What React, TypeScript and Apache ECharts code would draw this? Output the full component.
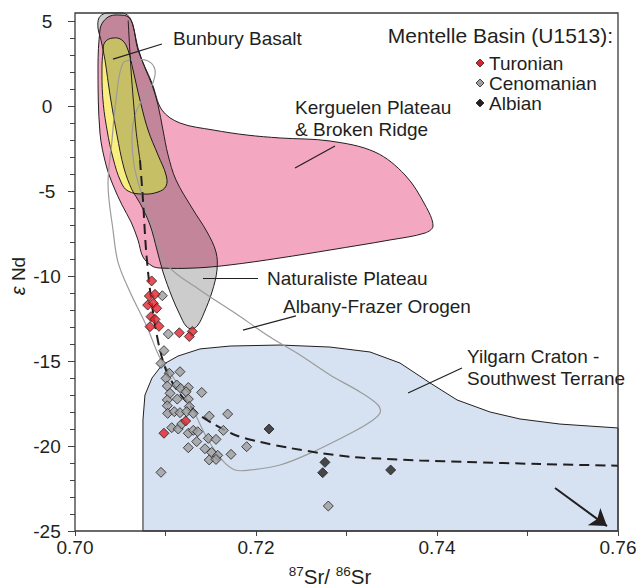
import React, { useEffect, useRef } from 'react';
import * as echarts from 'echarts';

const FONT = '"Liberation Sans", Arial, Helvetica, sans-serif';
const INK = '#231f20';

// axis
const xMin = 0.70, xMax = 0.76, xStep = 0.02;
const yMin = -25, yMax = 5, yStep = 5;

// samples (87Sr/86Sr, eps Nd)
const turonian: [number, number][] = [
  [0.70847, -10.29], [0.70821, -11.18], [0.70884, -11.08], [0.70803, -11.71], [0.70865, -11.61],
  [0.70903, -11.90], [0.70840, -12.39], [0.70884, -12.55], [0.70829, -12.98], [0.70928, -12.96],
  [0.71153, -13.34], [0.71296, -13.26], [0.71263, -13.56], [0.71223, -18.53], [0.70983, -19.25],
];
const cenomanian: [number, number][] = [
  [0.70965, -11.16], [0.71031, -13.41], [0.70983, -14.39], [0.70950, -15.14], [0.71042, -15.72],
  [0.71160, -15.63], [0.71006, -16.02], [0.71020, -16.47], [0.71124, -16.41], [0.71168, -16.61],
  [0.71252, -16.56], [0.71050, -16.90], [0.71227, -16.81], [0.71400, -16.85], [0.71020, -17.29],
  [0.71130, -17.24], [0.71252, -17.24], [0.71020, -17.63], [0.71263, -17.68], [0.71024, -18.08],
  [0.71097, -17.98], [0.71160, -18.04], [0.71234, -17.98], [0.71307, -18.08], [0.71484, -18.24],
  [0.71687, -18.12], [0.71069, -18.92], [0.71141, -19.0], [0.71179, -18.71], [0.71252, -19.25],
  [0.71307, -19.08], [0.71356, -19.16], [0.71473, -19.55], [0.71558, -19.61], [0.71639, -19.08],
  [0.71345, -19.74], [0.71252, -20.10], [0.71436, -20.16], [0.71510, -20.38], [0.71577, -20.55],
  [0.71483, -20.82], [0.71558, -20.79], [0.71724, -20.49], [0.70950, -21.55], [0.71897, -20.04],
  [0.72799, -23.53],
];
const albian: [number, number][] = [
  [0.72144, -19.0], [0.72762, -20.96], [0.72737, -21.57], [0.73488, -21.41],
];

// mixing curve
const mixingCurve: [number, number][] = [
  [0.70718, -3.18], [0.70751, -5.53], [0.70785, -8.47], [0.70829, -10.82], [0.70884, -12.88],
  [0.70939, -14.35], [0.71006, -15.53], [0.71105, -16.53], [0.71215, -17.29], [0.71348, -18.06],
  [0.71514, -18.65], [0.71768, -19.35], [0.72044, -19.76], [0.72376, -20.12], [0.72707, -20.41],
  [0.73072, -20.65], [0.73370, -20.74], [0.73812, -20.85], [0.74331, -20.94], [0.75138, -21.06],
  [0.76, -21.16],
];
const mixingUpper: [number, number][] = [
  [0.70586, 5.18], [0.70619, 2.12], [0.70674, -1.41], [0.70718, -3.18],
];
const trendArrow: [number, number][] = [[0.75304, -22.47], [0.75878, -24.71]];

// fields
const kerguelenField: [number, number][] = [
  [0.70309, 4.94], [0.70387, 5.29], [0.70497, 5.35], [0.70586, 5.24], [0.70641, 4.76],
  [0.70696, 3.29], [0.70851, 1.35], [0.70961, -0.24], [0.71160, -1.0], [0.71525, -1.41],
  [0.71901, -1.71], [0.72265, -1.88], [0.72818, -2.06], [0.73315, -2.71], [0.73647, -4.06],
  [0.73868, -5.82], [0.73956, -7.06], [0.73868, -7.47], [0.73481, -7.88], [0.72818, -8.47],
  [0.72265, -8.94], [0.71713, -9.35], [0.71326, -9.53], [0.70939, -9.53], [0.70851, -9.41],
  [0.70751, -8.88], [0.70696, -7.88], [0.70619, -6.82], [0.70519, -5.82], [0.70420, -4.65],
  [0.70343, -3.47], [0.70276, -1.59], [0.70254, 2.29], [0.70276, 4.47],
];
const naturalisteField: [number, number][] = [
  [0.70254, 4.59], [0.70265, 5.18], [0.70331, 5.45], [0.70442, 5.47], [0.70541, 5.45],
  [0.70608, 5.18], [0.70652, 4.47], [0.70696, 3.41], [0.70773, 2.24], [0.70851, 1.24],
  [0.70917, 0.06], [0.70972, -1.41], [0.71028, -2.88], [0.71116, -4.35], [0.71293, -6.0],
  [0.71459, -7.41], [0.71558, -8.59], [0.71569, -9.65], [0.71514, -10.94], [0.71425, -12.18],
  [0.71359, -12.88], [0.71293, -13.12], [0.71227, -12.94], [0.71160, -12.29], [0.71072, -11.24],
  [0.70972, -9.76], [0.70906, -8.47], [0.70829, -7.0], [0.70718, -5.71], [0.70630, -4.94],
  [0.70541, -3.65], [0.70464, -1.71], [0.70387, 0.65], [0.70331, 2.71], [0.70287, 3.88],
];
const bunburyField: [number, number][] = [
  [0.70331, 3.76], [0.70420, 4.0], [0.70519, 3.88], [0.70586, 3.29], [0.70641, 2.12],
  [0.70718, 0.35], [0.70807, -1.41], [0.70917, -2.88], [0.71006, -4.06], [0.71006, -4.71],
  [0.70917, -5.06], [0.70751, -5.18], [0.70586, -5.0], [0.70508, -4.47], [0.70420, -3.06],
  [0.70354, -1.41], [0.70309, 0.35], [0.70298, 2.12], [0.70309, 3.18],
];
const albanyFrazerField: [number, number][] = [
  [0.70530, 2.53], [0.70663, 2.71], [0.70807, 2.65], [0.70884, 2.12], [0.70851, 1.24],
  [0.70740, 0.35], [0.70663, -0.53], [0.70630, -1.71], [0.70652, -3.47], [0.70740, -5.24],
  [0.70873, -7.41], [0.71017, -9.35], [0.71381, -10.82], [0.71768, -12.18], [0.72155, -13.59],
  [0.72486, -14.65], [0.72818, -15.82], [0.73149, -16.82], [0.73348, -17.59], [0.73370, -18.06],
  [0.73260, -18.59], [0.73072, -19.18], [0.72630, -20.35], [0.72265, -21.12], [0.71934, -21.41],
  [0.71768, -21.41], [0.71624, -20.82], [0.71459, -19.53], [0.71304, -17.88], [0.71105, -16.12],
  [0.70939, -14.82], [0.70796, -13.0], [0.70608, -10.94], [0.70475, -9.18], [0.70420, -7.29],
  [0.70365, -4.65], [0.70409, -2.0], [0.70453, 0.35],
];
const yilgarnField: [number, number][] = [
  [0.70751, -25], [0.70751, -18.47], [0.70773, -17.0], [0.70851, -16.0], [0.70961, -15.24],
  [0.71138, -14.71], [0.71381, -14.29], [0.71713, -14.12], [0.72265, -14.06], [0.72818, -14.18],
  [0.73260, -14.47], [0.73591, -15.12], [0.73923, -16.29], [0.74221, -17.29], [0.74586, -18.0],
  [0.74917, -18.41], [0.75359, -18.71], [0.76, -18.94], [0.76, -25],
];

// field labels
const fieldLabels = [
  { text: 'Bunbury Basalt', at: [0.71083, 4.0], leader: [[0.70420, 2.76], [0.70961, 3.65]] },
  { text: 'Kerguelen Plateau\n& Broken Ridge', at: [0.72431, -0.73], leader: [[0.72873, -2.35], [0.72431, -3.65]] },
  { text: 'Naturaliste Plateau', at: [0.72122, -10.12], leader: [[0.71414, -10.12], [0.72022, -10.12]] },
  { text: 'Albany-Frazer Orogen', at: [0.72298, -11.82], leader: [[0.71856, -13.18], [0.72442, -12.35]] },
  { text: 'Yilgarn Craton -\nSouthwest Terrane', at: [0.74331, -15.38], leader: [[0.73680, -16.88], [0.74276, -15.41]] },
];

const legendTitle = 'Mentelle Basin (U1513):';
const legendItems = [
  { name: 'Turonian', color: '#e3202a' },
  { name: 'Cenomanian', color: '#9d9d9d' },
  { name: 'Albian', color: INK },
];

function field(name: string, pts: [number, number][], fill: string, stroke: string, lineWidth: number, z: number, smooth: number) {
  return {
    type: 'custom',
    name,
    coordinateSystem: 'cartesian2d',
    z,
    silent: true,
    clip: false,
    data: [pts[0]],
    renderItem: (_p: any, api: any) => ({
      type: 'polygon',
      shape: { points: pts.map((p) => api.coord(p)), smooth },
      style: { fill, stroke, lineWidth },
    }),
  };
}

function buildOption() {
  const legendGraphics: any[] = [
    {
      type: 'text', x: 613, y: 35,
      style: { text: legendTitle, fontSize: 21, fontFamily: FONT, fill: INK, align: 'right', verticalAlign: 'middle' },
    },
  ];
  legendItems.forEach((it, i) => {
    const cy = 63 + i * 20;
    legendGraphics.push({
      type: 'polygon',
      shape: { points: [[480, cy - 4], [484, cy], [480, cy + 4], [476, cy]] },
      style: { fill: it.color, stroke: INK, lineWidth: 0.8 },
    });
    legendGraphics.push({
      type: 'text', x: 489, y: cy,
      style: { text: it.name, fontSize: 19, fontFamily: FONT, fill: INK, align: 'left', verticalAlign: 'middle' },
    });
  });

  const tickStyle = { color: '#444', width: 1 };

  return {
    animation: false,
    backgroundColor: '#ffffff',
    grid: { left: 75, right: 23, top: 21, bottom: 56, containLabel: false },
    xAxis: {
      type: 'value', min: xMin, max: xMax, interval: xStep,
      axisLine: { show: false, onZero: false },
      axisTick: { show: true, inside: false, length: 5, lineStyle: tickStyle },
      minorTick: { show: true, splitNumber: 2, length: 5, lineStyle: tickStyle },
      splitLine: { show: false },
      axisLabel: { margin: 7, fontSize: 19, fontFamily: FONT, color: INK, formatter: (v: number) => v.toFixed(2) },
    },
    yAxis: {
      type: 'value', min: yMin, max: yMax, interval: yStep,
      axisLine: { show: false, onZero: false },
      axisTick: { show: true, inside: false, length: 7, lineStyle: tickStyle },
      minorTick: { show: true, splitNumber: 5, length: 5, lineStyle: tickStyle },
      splitLine: { show: false },
      axisLabel: { margin: 28, align: 'center', fontSize: 19, fontFamily: FONT, color: INK, formatter: (v: number) => String(v) },
    },
    graphic: [
      { type: 'rect', shape: { x: 75, y: 13, width: 543, height: 518 }, style: { fill: 'none', stroke: '#3a3a3a', lineWidth: 1.3 }, z: 100, silent: true },
      {
        type: 'text', x: 330, y: 576,
        style: {
          text: '{s|87}{n|Sr/ }{s|86}{n|Sr}', fontFamily: FONT, fill: INK, align: 'center', verticalAlign: 'middle',
          rich: {
            s: { fontSize: 13.5, fontFamily: FONT, fill: INK, verticalAlign: 'top', lineHeight: 23 },
            n: { fontSize: 20.5, fontFamily: FONT, fill: INK, lineHeight: 23 },
          },
        },
      },
      {
        type: 'text', x: 18, y: 276, rotation: Math.PI / 2,
        style: {
          text: '{e|\u03b5} Nd', fontSize: 19, fontFamily: FONT, fill: INK, align: 'center', verticalAlign: 'middle',
          rich: { e: { fontSize: 20, fontStyle: 'italic', fontFamily: FONT, fill: INK } },
        },
      },
      ...legendGraphics,
    ],
    series: [
      field('Yilgarn Craton', yilgarnField, '#d6e2f2', INK, 1, 1, 0),
      field('Kerguelen Plateau', kerguelenField, '#f4a7c1', INK, 1, 2, 0.35),
      field('Bunbury Basalt', bunburyField, '#f8ef80', INK, 1, 3, 0.4),
      field('Naturaliste Plateau', naturalisteField, 'rgba(0,0,0,0.2)', INK, 1, 4, 0.35),
      field('Albany-Frazer Orogen', albanyFrazerField, 'none', '#9b9b9b', 1.2, 5, 0.35),
      {
        type: 'line', name: 'mixing upper', data: mixingUpper, showSymbol: false, symbol: 'none', smooth: 0.3,
        lineStyle: { color: INK, width: 1 }, z: 6, silent: true,
      },
      {
        type: 'line', name: 'mixing', data: mixingCurve, showSymbol: false, symbol: 'none', smooth: 0.3,
        lineStyle: { color: INK, width: 2, type: [10, 6] }, z: 7, silent: true,
      },
      {
        type: 'lines', coordinateSystem: 'cartesian2d', z: 8, silent: true,
        data: fieldLabels.map((l) => ({ coords: l.leader })),
        lineStyle: { color: INK, width: 1.2, opacity: 1 }, symbol: ['none', 'none'],
      },
      {
        type: 'lines', coordinateSystem: 'cartesian2d', z: 8, silent: true,
        data: [{ coords: trendArrow }],
        lineStyle: { color: INK, width: 2, opacity: 1 }, symbol: ['none', 'arrow'], symbolSize: 16,
      },
      {
        type: 'custom', coordinateSystem: 'cartesian2d', z: 9, silent: true, clip: false,
        data: fieldLabels.map((l) => l.at),
        renderItem: (p: any, api: any) => {
          const l = fieldLabels[p.dataIndex];
          const c = api.coord(l.at);
          return {
            type: 'text', x: c[0], y: c[1],
            style: { text: l.text, fontSize: 19, fontFamily: FONT, fill: INK, align: 'left', verticalAlign: 'middle', lineHeight: 22 },
          };
        },
      },
      {
        type: 'scatter', name: 'Cenomanian', data: cenomanian, symbol: 'diamond', symbolSize: 10, z: 10,
        itemStyle: { color: '#9d9d9d', borderColor: INK, borderWidth: 1 },
      },
      {
        type: 'scatter', name: 'Turonian', data: turonian, symbol: 'diamond', symbolSize: 10, z: 11,
        itemStyle: { color: '#e3202a', borderColor: INK, borderWidth: 1 },
      },
      {
        type: 'scatter', name: 'Albian', data: albian, symbol: 'diamond', symbolSize: 10, z: 12,
        itemStyle: { color: INK, borderColor: INK, borderWidth: 1 },
      },
    ],
  };
}

export default function App() {
  const ref = useRef<HTMLDivElement>(null);
  useEffect(() => {
    document.body.style.margin = '0';
    const chart = echarts.init(ref.current as HTMLDivElement, undefined, { renderer: 'svg' });
    chart.setOption(buildOption() as any);
    return () => chart.dispose();
  }, []);
  return <div ref={ref} style={{ width: 641, height: 587 }} />;
}
